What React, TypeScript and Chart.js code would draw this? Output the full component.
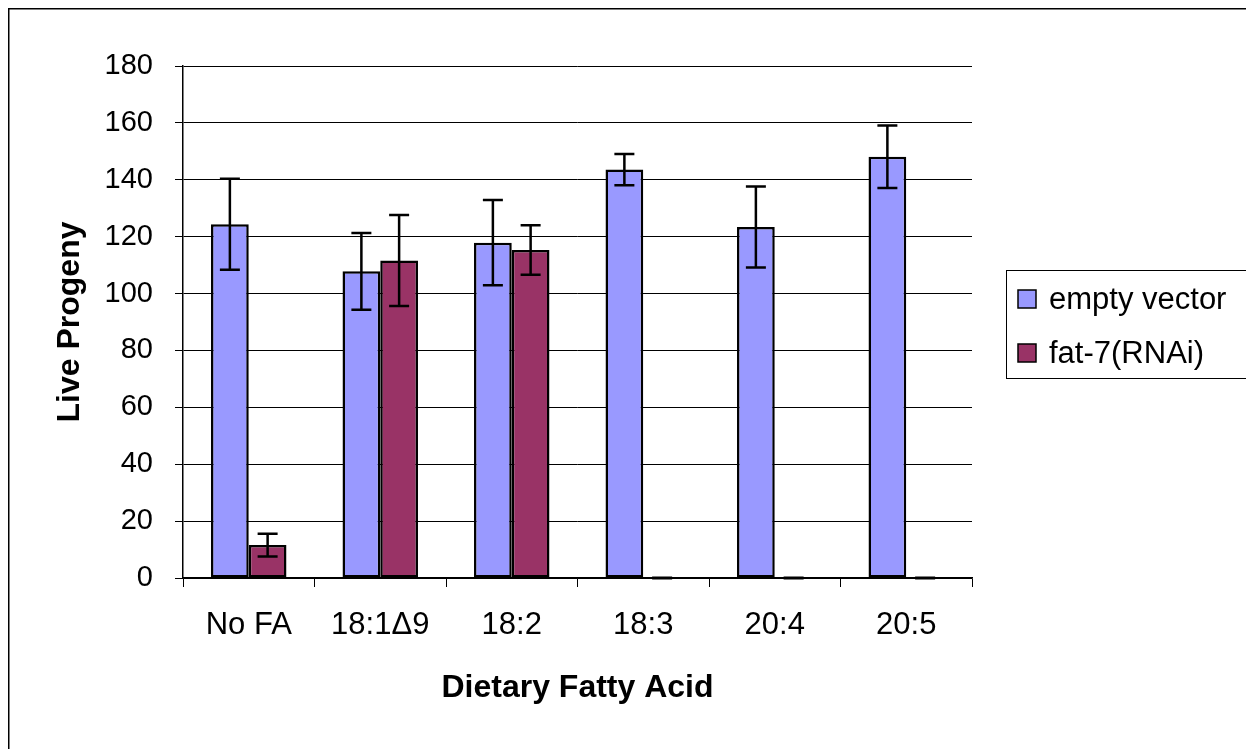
import React, { useEffect, useRef } from "react";
import { Chart, registerables } from "chart.js";

Chart.register(...registerables);

const categories = ["No FA", "18:1\u03949", "18:2", "18:3", "20:4", "20:5"];
const seriesNames = ["empty vector", "fat-7(RNAi)"];
const emptyVector = [124.4, 107.8, 117.9, 143.6, 123.4, 148.1];
const emptyVectorErr = [16, 13.5, 15, 5.5, 14.2, 11];
const fat7 = [11.6, 111.6, 115.3, 0, 0, 0];
const fat7Err = [4, 16, 8.7, 0, 0, 0];
const yMin = 0;
const yMax = 180;
const yStep = 20;

const colors = ["#9999FF", "#993366"];
const FONT = "'Liberation Sans', Arial, sans-serif";

const errorBarPlugin = {
  id: "errorBars",
  afterDatasetsDraw(chart: any) {
    const ctx = chart.ctx;
    const yScale = chart.scales.y;
    chart.data.datasets.forEach((ds: any, i: number) => {
      const meta = chart.getDatasetMeta(i);
      const errs: number[] = ds.errors || [];
      meta.data.forEach((el: any, j: number) => {
        const v = ds.data[j];
        const e = errs[j] || 0;
        const x = el.x;
        const yTop = yScale.getPixelForValue(v + e);
        const yBot = yScale.getPixelForValue(v - e);
        ctx.save();
        ctx.strokeStyle = "#000";
        ctx.lineWidth = e === 0 ? 3 : 2.5;
        ctx.beginPath();
        ctx.moveTo(x, yTop);
        ctx.lineTo(x, yBot);
        ctx.moveTo(x - 10, yTop);
        ctx.lineTo(x + 10, yTop);
        ctx.moveTo(x - 10, yBot);
        ctx.lineTo(x + 10, yBot);
        ctx.stroke();
        ctx.restore();
      });
    });
  },
};

const framePlugin = {
  id: "frameAndLegend",
  afterDraw(chart: any) {
    const ctx = chart.ctx;
    ctx.save();
    // outer frame
    ctx.strokeStyle = "#000";
    ctx.lineWidth = 1.5;
    ctx.strokeRect(0.75, 0.75, chart.width + 20, chart.height + 20);
    // legend
    const lx = 998, ly = 262, lw = 242, lh = 108;
    ctx.lineWidth = 1;
    ctx.strokeRect(lx + 0.5, ly + 0.5, lw, lh);
    ctx.font = "31px " + FONT;
    ctx.textBaseline = "middle";
    ctx.textAlign = "left";
    chart.data.datasets.forEach((ds: any, i: number) => {
      const cy = 291 + i * 54;
      ctx.fillStyle = ds.backgroundColor;
      ctx.fillRect(1010, cy - 9, 18, 18);
      ctx.strokeStyle = "#000";
      ctx.lineWidth = 1.5;
      ctx.strokeRect(1010, cy - 9, 18, 18);
      ctx.fillStyle = "#000";
      ctx.fillText(ds.label, 1041, cy + 1);
    });
    ctx.restore();
  },
};

export default function App() {
  const ref = useRef<HTMLCanvasElement | null>(null);
  useEffect(() => {
    document.body.style.overflow = "hidden";
    if (!ref.current) return;
    const chart = new Chart(ref.current, {
      type: "bar",
      data: {
        labels: categories,
        datasets: [
          {
            label: seriesNames[0],
            data: emptyVector,
            errors: emptyVectorErr,
            backgroundColor: colors[0],
            borderColor: "#000",
            borderWidth: 2.5,
            borderSkipped: false,
          } as any,
          {
            label: seriesNames[1],
            data: fat7,
            errors: fat7Err,
            backgroundColor: colors[1],
            borderColor: "#000",
            borderWidth: 2.5,
            borderSkipped: false,
          } as any,
        ],
      },
      options: {
        responsive: false,
        animation: false,
        devicePixelRatio: 1,
        layout: { padding: { left: 0, top: 58, right: 282, bottom: 0 } },
        datasets: { bar: { categoryPercentage: 0.574, barPercentage: 1 } },
        plugins: {
          legend: { display: false },
          tooltip: { enabled: false },
        },
        scales: {
          x: {
            offset: true,
            grid: {
              offset: true,
              drawOnChartArea: false,
              drawTicks: true,
              tickLength: 9,
              color: "#000",
              lineWidth: 1,
            },
            border: { display: true, color: "#000", width: 1.5 },
            ticks: {
              color: "#000",
              padding: 20,
              font: { family: FONT, size: 31 },
              maxRotation: 0,
            },
            title: {
              display: true,
              text: "Dietary Fatty Acid",
              color: "#000",
              font: { family: FONT, size: 32, weight: "bold" },
              padding: { top: 0, bottom: 42 },
            },
            afterFit(scale: any) {
              scale.height = 171;
            },
          },
          y: {
            min: yMin,
            max: yMax,
            ticks: {
              stepSize: yStep,
              color: "#000",
              padding: 22,
              font: { family: FONT, size: 29 },
            },
            grid: {
              color: "#000",
              lineWidth: 1,
              drawTicks: true,
              tickLength: 8,
            },
            border: { display: true, color: "#000", width: 1.5 },
            title: {
              display: true,
              text: "Live Progeny",
              color: "#000",
              font: { family: FONT, size: 32, weight: "bold" },
              padding: { top: 43, bottom: 0 },
            },
            afterFit(scale: any) {
              scale.width = 175;
            },
          },
        },
      } as any,
      plugins: [errorBarPlugin, framePlugin],
    });
    return () => chart.destroy();
  }, []);
  return (
    <div style={{ width: 1246, height: 741 }}>
      <canvas ref={ref} width={1246} height={741} style={{ display: "block" }} />
    </div>
  );
}
